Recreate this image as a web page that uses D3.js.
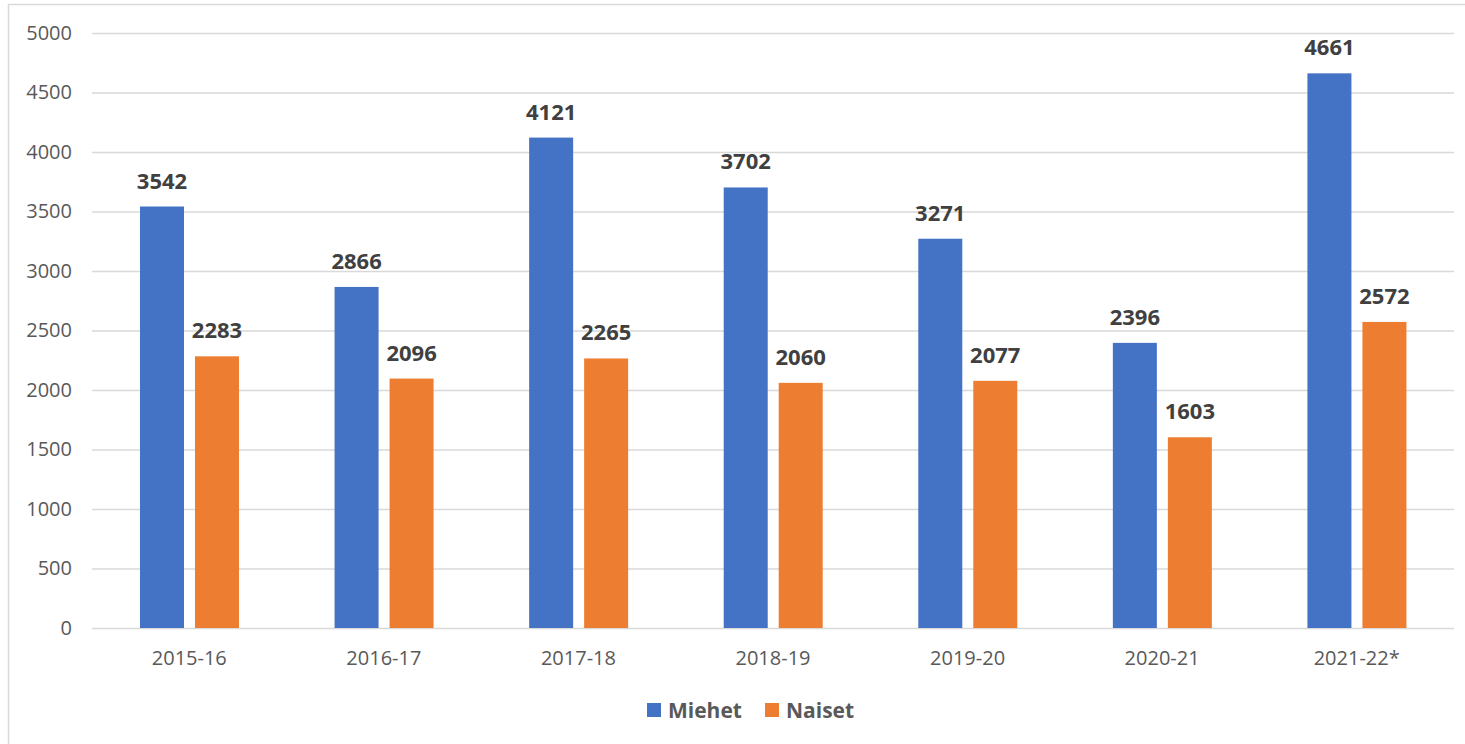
<!DOCTYPE html>
<html>
<head>
<meta charset="utf-8">
<script src="https://cdn.jsdelivr.net/npm/d3@7"></script>
<style>
  body { margin: 0; background: #fff; }
  svg { display: block; font-family: "Open Sans", "Noto Sans", sans-serif; }
</style>
</head>
<body>
<div id="chart"></div>
<script>
(function () {
  'use strict';
  /* global d3 */

  var years = ['2015-16', '2016-17', '2017-18', '2018-19', '2019-20', '2020-21', '2021-22*'];
  var miehet = [3542, 2866, 4121, 3702, 3271, 2396, 4661];
  var naiset = [2283, 2096, 2265, 2060, 2077, 1603, 2572];
  var seriesNames = ['Miehet', 'Naiset'];
  var yTicks = [0, 500, 1000, 1500, 2000, 2500, 3000, 3500, 4000, 4500, 5000];

  var colors = ['#4472c4', '#ed7d31'];
  var font = '"Open Sans", "Noto Sans", sans-serif';

  var W = 1465,
      H = 744,
      left = 92,
      right = 1454,
      top = 33,
      bottom = 628;

  var svg = d3.select('#chart')
    .append('svg')
    .attr('width', W)
    .attr('height', H);

  // chart frame
  svg.append('rect')
    .attr('x', 8.5).attr('y', 4.5)
    .attr('width', W + 10).attr('height', H + 10)
    .attr('fill', '#fff')
    .attr('stroke', '#d9d9d9')
    .attr('stroke-width', 1.5);

  var x = d3.scaleBand()
    .domain(years)
    .range([left, right]);

  var x1 = d3.scaleBand()
    .domain(seriesNames)
    .range([48, 147])
    .paddingInner(0.2);

  var y = d3.scaleLinear()
    .domain([0, 5000])
    .range([bottom, top]);

  // gridlines + y labels
  var yAxis = d3.axisLeft(y)
    .tickValues(yTicks)
    .tickSize(-(right - left))
    .tickPadding(20)
    .tickFormat(d3.format('d'));

  var gy = svg.append('g')
    .attr('transform', 'translate(' + left + ',0)')
    .call(yAxis)
    .attr('font-family', font)
    .attr('font-size', 20);
  gy.select('.domain').remove();
  gy.selectAll('.tick line')
    .attr('stroke', '#d9d9d9')
    .attr('stroke-width', 1.5);
  gy.selectAll('.tick text')
    .attr('fill', '#595959');

  var xAxis = d3.axisBottom(x).tickSize(0).tickPadding(23);
  var gx = svg.append('g')
    .attr('transform', 'translate(0,' + bottom + ')')
    .call(xAxis)
    .attr('font-family', font)
    .attr('font-size', 20);
  gx.select('.domain').remove();
  gx.selectAll('.tick text')
    .attr('fill', '#595959');

  var rows = years.map(function (yr, i) {
    return { year: yr, vals: [miehet[i], naiset[i]] };
  });

  var groups = svg.selectAll('g.grp')
    .data(rows)
    .enter()
    .append('g')
    .attr('class', 'grp')
    .attr('transform', function (d) { return 'translate(' + x(d.year) + ',0)'; });

  groups.selectAll('rect')
    .data(function (d) {
      return d.vals.map(function (v, k) { return { name: seriesNames[k], v: v, k: k }; });
    })
    .enter()
    .append('rect')
    .attr('x', function (d) { return x1(d.name); })
    .attr('y', function (d) { return y(d.v); })
    .attr('width', x1.bandwidth())
    .attr('height', function (d) { return bottom - y(d.v); })
    .attr('fill', function (d) { return colors[d.k]; });

  groups.selectAll('text.val')
    .data(function (d) {
      return d.vals.map(function (v, k) { return { name: seriesNames[k], v: v }; });
    })
    .enter()
    .append('text')
    .attr('class', 'val')
    .attr('x', function (d) { return x1(d.name) + x1.bandwidth() / 2; })
    .attr('y', function (d) { return y(d.v) - 18; })
    .attr('text-anchor', 'middle')
    .attr('font-size', 22)
    .attr('font-weight', 'bold')
    .attr('fill', '#404040')
    .text(function (d) { return d.v; });

  // legend
  var legendX = [647, 765];
  var lg = svg.append('g');
  seriesNames.forEach(function (name, k) {
    lg.append('rect')
      .attr('x', legendX[k]).attr('y', 703)
      .attr('width', 14).attr('height', 14)
      .attr('fill', colors[k]);
    lg.append('text')
      .attr('x', legendX[k] + 21).attr('y', 718)
      .attr('font-size', 21)
      .attr('font-weight', 'bold')
      .attr('fill', '#595959')
      .text(name);
  });
}());
</script>
</body>
</html>
